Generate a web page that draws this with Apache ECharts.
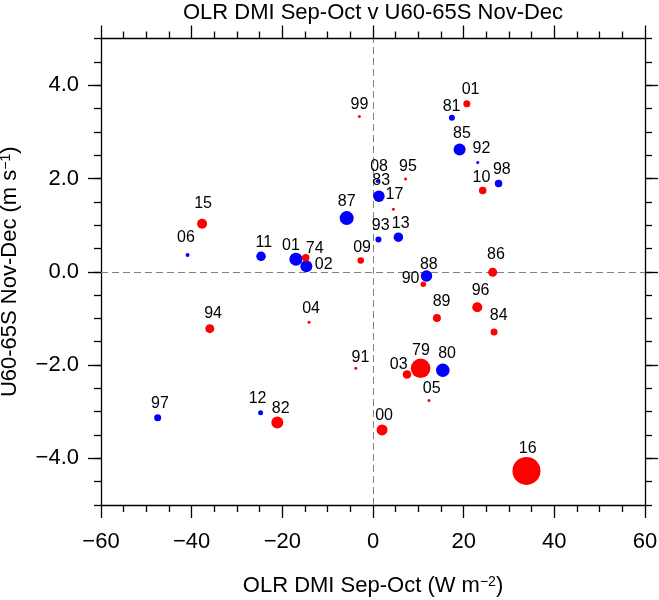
<!DOCTYPE html>
<html><head><meta charset="utf-8">
<script src="https://cdn.jsdelivr.net/npm/echarts@6/dist/echarts.min.js"></script>
<style>html,body{margin:0;padding:0;background:#fff}#c{width:659px;height:600px}</style>
</head><body><div id="c"></div>
<script>
// ---------- data ----------
const redYears = ['99','15','74','09','01','10','95','17','90','86','94','04','91','82','89','96','84','79','03','05','00','16'];
const redX     = [-3.0,-37.7,-14.85,-2.7,20.7,24.2,7.2,4.5,11.1,26.4,-36.0,-14.1,-3.8,-21.1,14.1,23.0,26.7,10.5,7.5,12.35,2.0,33.85];
const redY     = [3.33,1.03,0.30,0.24,3.60,1.74,1.99,1.34,-0.27,-0.01,-1.22,-1.08,-2.07,-3.23,-0.99,-0.76,-1.29,-2.07,-2.20,-2.76,-3.39,-4.27];
const redMag   = [0.3,1.0,0.75,0.65,0.7,0.75,0.3,0.3,0.55,0.9,0.9,0.3,0.3,1.2,0.8,1.0,0.7,1.95,0.85,0.3,1.1,2.8];

const blueYears = ['06','11','01','02','87','81','85','92','98','08','83','93','13','88','97','12','80'];
const blueX     = [-40.9,-24.7,-17.0,-14.7,-5.8,17.4,19.1,23.1,27.7,0.97,1.3,1.2,5.6,11.8,-47.5,-24.8,15.4];
const blueY     = [0.36,0.33,0.27,0.12,1.15,3.30,2.62,2.34,1.89,1.94,1.62,0.69,0.74,-0.09,-3.13,-3.02,-2.11];
const blueMag   = [0.4,0.95,1.3,1.2,1.4,0.6,1.2,0.3,0.75,0.35,1.15,0.6,0.95,1.15,0.7,0.5,1.35];

const xTicks = [-60,-40,-20,0,20,40,60];
const yTicks = [-4,-2,0,2,4];

// ---------- layout / style ----------
const FONT = '"Liberation Sans", Arial, Helvetica, sans-serif';
const SIZE_SCALE = 10;
const labelNudge = {
  r99:[0,-12.3], r15:[1,-19.7], r74:[9,-9.3], r09:[1.3,-12.7], r01:[3.7,-14.7], r10:[-1.3,-13.3],
  r95:[2.3,-12.7], r17:[1,-14.3], r90:[-12.7,-6], r86:[3.3,-18], r94:[3.3,-15.3], r04:[2,-13.3],
  r91:[4.7,-11], r82:[3.3,-14.3], r89:[4.7,-16.3], r96:[3.3,-16.7], r84:[4.7,-16], r79:[0.3,-17.3],
  r03:[-8.3,-9.7], r05:[2.7,-11.7], r00:[2,-14], r16:[1.3,-22.7],
  b06:[-1.7,-17.7], b11:[2.7,-14], b01:[-5,-13.7], b02:[17.3,-1.3], b87:[0,-17], b81:[-0.3,-11.7],
  b85:[2.3,-16], b92:[3.7,-13.7], b98:[3.3,-14.3], b08:[1.7,-14.7], b83:[2.3,-15.3], b93:[2.3,-14],
  b13:[2.3,-14], b88:[2.3,-11.7], b97:[2.3,-14.3], b12:[-3,-14], b80:[4.3,-17]
};

function build(years, xs, ys, ms, key) {
  return years.map((n, i) => ({
    name: n,
    value: [xs[i], ys[i], ms[i]],
    label: { offset: labelNudge[key + n] || [0, -12] }
  }));
}
const minus = v => (v < 0 ? '\u2212' : '') + Math.abs(v);
const minus1 = v => (v < 0 ? '\u2212' : '') + Math.abs(v).toFixed(1);

const lineSt = { color: '#000', width: 1.3 };
const nameStyle = {
  fontSize: 22, color: '#000', fontFamily: FONT,
  rich: { sup: { fontSize: 14, color: '#000', fontFamily: FONT, verticalAlign: 'top' } }
};

function xAx(pos, showLabel) {
  const a = {
    type: 'value', position: pos, min: -60, max: 60, interval: 20,
    axisLine: { show: true, onZero: false, lineStyle: lineSt },
    axisTick: { show: true, inside: false, length: 13, lineStyle: lineSt },
    minorTick: { show: true, splitNumber: 4, length: 7, lineStyle: lineSt },
    splitLine: { show: false }, minorSplitLine: { show: false },
    axisLabel: { show: showLabel, fontSize: 22, color: '#000', fontFamily: FONT, margin: 26, formatter: minus }
  };
  if (showLabel) {
    a.name = 'OLR DMI Sep-Oct (W m{sup|\u22122})';
    a.nameLocation = 'middle'; a.nameGap = 70; a.nameTextStyle = nameStyle;
  }
  return a;
}
function yMajor(pos, showLabel) {
  const a = {
    type: 'value', position: pos, min: -5, max: 5,
    axisLine: { show: true, onZero: false, lineStyle: lineSt },
    axisTick: { show: true, inside: false, length: 13, lineStyle: lineSt, customValues: yTicks },
    splitLine: { show: false },
    axisLabel: { show: showLabel, customValues: yTicks, fontSize: 22, color: '#000', fontFamily: FONT, margin: 22, formatter: minus1 }
  };
  if (showLabel) {
    a.name = 'U60-65S Nov-Dec (m s{sup|\u22121})';
    a.nameLocation = 'middle'; a.nameRotate = 90; a.nameGap = 80; a.nameTextStyle = nameStyle;
  }
  return a;
}
function yMinor(pos) {
  return {
    type: 'value', position: pos, min: -5, max: 5, interval: 0.5,
    axisLine: { show: false, onZero: false },
    axisTick: { show: true, inside: false, length: 7, lineStyle: lineSt },
    splitLine: { show: false }, axisLabel: { show: false }
  };
}

const labelBase = { show: true, position: 'inside', color: '#000', fontSize: 16, fontFamily: FONT, formatter: p => p.name };

const option = {
  animation: false,
  backgroundColor: '#fff',
  title: {
    text: 'OLR DMI Sep-Oct v U60-65S Nov-Dec', left: 368, top: -3, textAlign: 'center',
    textStyle: { fontSize: 22, fontWeight: 'normal', color: '#000', fontFamily: FONT }
  },
  grid: { left: 101, right: 14, top: 38.5, bottom: 95, containLabel: false, outerBoundsMode: 'none' },
  xAxis: [xAx('bottom', true), xAx('top', false)],
  yAxis: [yMajor('left', true), yMinor('left'), yMajor('right', false), yMinor('right')],
  series: [
    {
      type: 'scatter', name: 'zero', data: [], z: 1, silent: true,
      markLine: {
        z: 1, silent: true, symbol: 'none', label: { show: false },
        lineStyle: { color: '#808080', type: [7, 4], width: 1 },
        data: [{ xAxis: 0 }, { yAxis: 0 }]
      }
    },
    {
      type: 'scatter', name: 'blue', z: 3,
      itemStyle: { color: '#0000ff', opacity: 1 },
      symbolSize: v => v[2] * SIZE_SCALE,
      label: labelBase,
      data: build(blueYears, blueX, blueY, blueMag, 'b')
    },
    {
      type: 'scatter', name: 'red', z: 4,
      itemStyle: { color: '#ff0000', opacity: 1 },
      symbolSize: v => v[2] * SIZE_SCALE,
      label: labelBase,
      data: build(redYears, redX, redY, redMag, 'r')
    }
  ]
};
const chart = echarts.init(document.getElementById('c'), null, { renderer: 'canvas' });
chart.setOption(option);
</script>
</body></html>
